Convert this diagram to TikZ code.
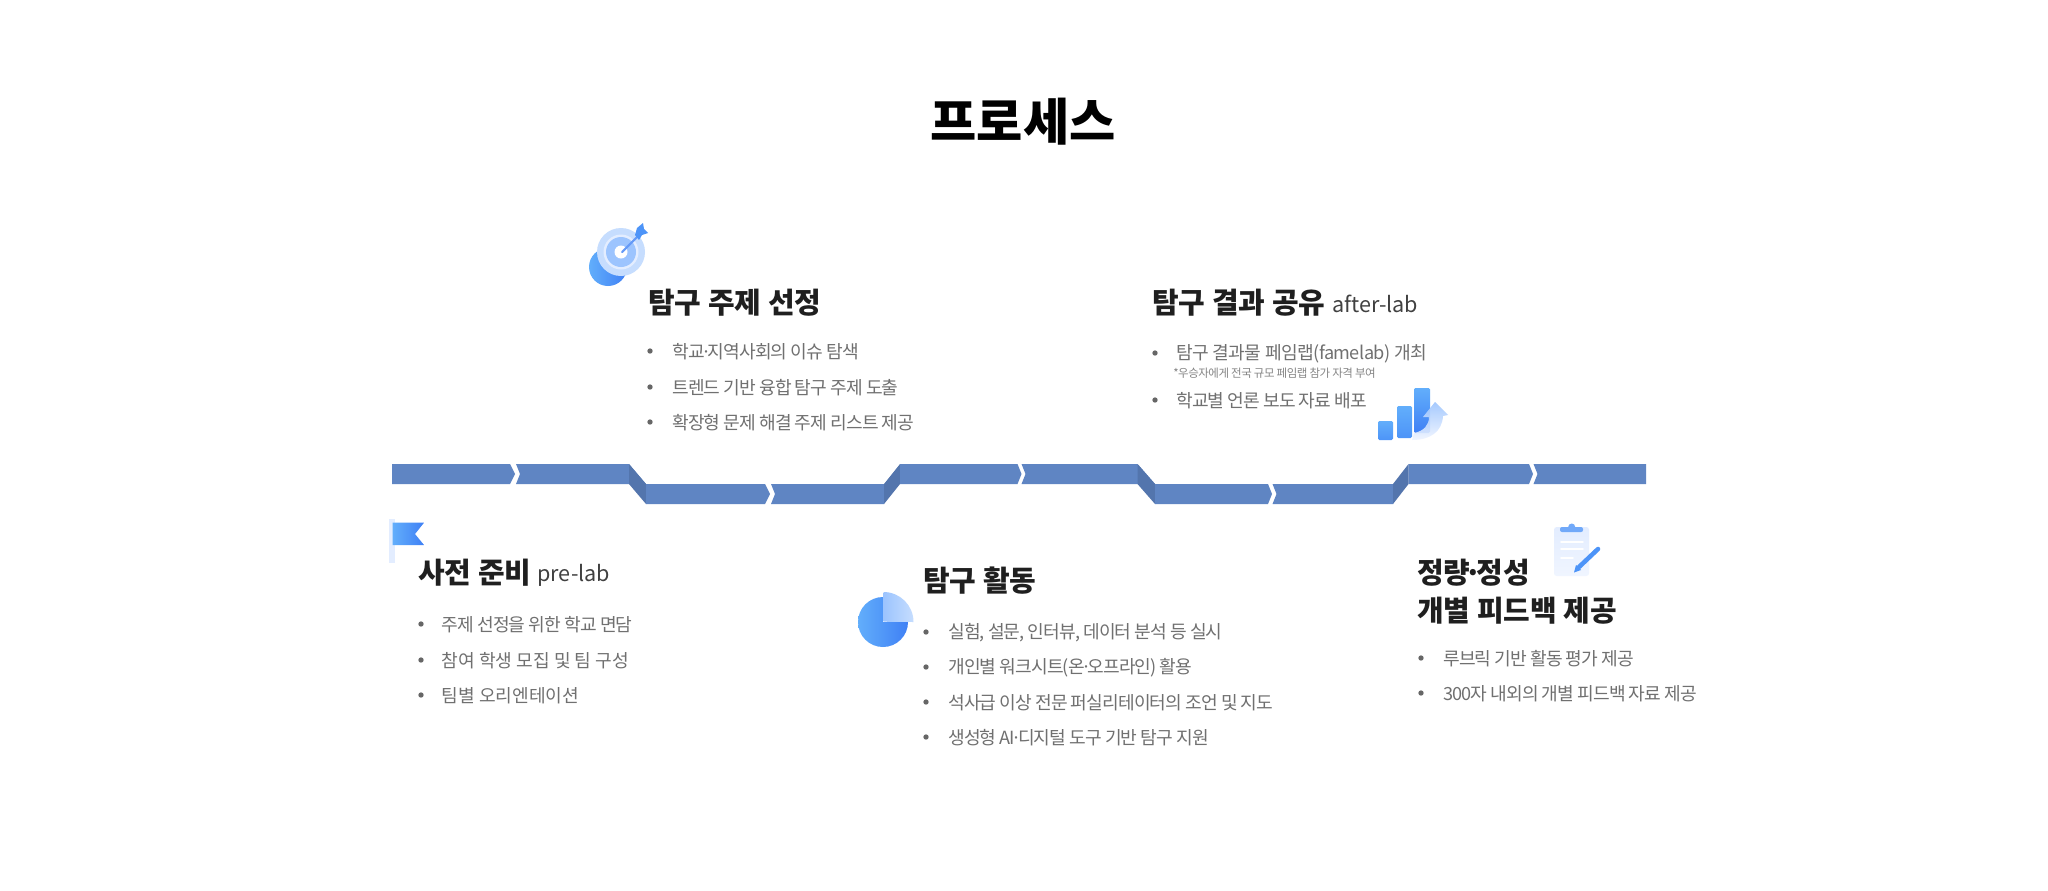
\documentclass[tikz,border=0pt]{standalone}
\usepackage{fontspec}
\setmainfont{Noto Sans CJK KR}
\newfontfamily\tightf[LetterSpace=-5]{Noto Sans CJK KR}
\newfontfamily\midf[LetterSpace=-3]{Noto Sans CJK KR}
\newfontfamily\notef[LetterSpace=-4]{Noto Sans CJK KR}
\usetikzlibrary{calc}
\definecolor{bandc}{HTML}{5F85C3}
\definecolor{bandd}{HTML}{5375AD}
\definecolor{headc}{HTML}{1F1F1F}
\definecolor{bodyc}{HTML}{707070}
\definecolor{dotc}{HTML}{666666}
\definecolor{iconm}{HTML}{4D94F8}
\definecolor{iconl}{HTML}{62AEFB}
\definecolor{icond}{HTML}{3F80F5}
\definecolor{iconp}{HTML}{C6DDFE}
\definecolor{iconq}{HTML}{9CC4FE}
\definecolor{iconb}{HTML}{E3EDFF}
\definecolor{iconc}{HTML}{F0F5FF}
\newcommand{\mdot}{\kern-0.2em·\kern-0.2em}
\tikzset{
  band/.style={fill=bandc},
  slope/.style={fill=bandd},
  titletext/.style={anchor=center,inner sep=0,font=\fontsize{37.7}{38}\selectfont\bfseries,text=black},
  headtext/.style={anchor=west,inner sep=0,font=\fontsize{21.7}{26}\selectfont\bfseries,text=headc},
  subtext/.style={anchor=west,inner sep=0,font=\fontsize{16.2}{19}\selectfont,text=headc!85!white},
  bodytext/.style={anchor=west,inner sep=0,font=\fontsize{13.6}{16}\selectfont\tightf,text=bodyc},
  notetext/.style={anchor=west,inner sep=0,font=\fontsize{8.6}{10}\selectfont\notef,text=bodyc!85!white},
  dotmark/.style={circle,fill=dotc,inner sep=0,minimum size=4pt},
}
\newcommand{\bulitem}[5]{% name, dotx, textx, y, text
  \node[dotmark] (#1d) at (#2,#4) {};
  \node[bodytext] (#1) at (#3,#4+1) {#5};
}
\begin{document}
\begin{tikzpicture}[x=0.75pt,y=-0.75pt]
\useasboundingbox (0,0) rectangle (2048,890);
\fill[white] (0,0) rectangle (2048,890);

\node[titletext] (title) at (1023,122) {프로세스};

% band
\fill[band] (392,464)--(510,464)--(515,474)--(510,484)--(392,484)--cycle;
\fill[band] (516,464)--(629,464)--(646,484)--(629,484)--(516,484)--(520,474)--cycle;
\fill[slope] (629,464)--(646,484)--(646,504)--(629,484)--cycle;
\fill[band] (646,484)--(765,484)--(770,494)--(765,504)--(646,504)--cycle;
\fill[band] (771,484)--(884,484)--(884,504)--(771,504)--(775,494)--cycle;
\fill[slope] (884,484)--(900,464)--(900,484)--(884,504)--cycle;
\fill[band] (900,464)--(1017.5,464)--(1021.5,474)--(1017.5,484)--(900,484)--cycle;
\fill[band] (1021.5,464)--(1137.5,464)--(1155,484)--(1137.5,484)--(1021.5,484)--(1025.5,474)--cycle;
\fill[slope] (1137.5,464)--(1155,484)--(1155,504)--(1137.5,484)--cycle;
\fill[band] (1155,484)--(1268,484)--(1272,494)--(1268,504)--(1155,504)--cycle;
\fill[band] (1272.5,484)--(1393,484)--(1393,504)--(1272.5,504)--(1276.5,494)--cycle;
\fill[slope] (1393,484)--(1408.5,464)--(1408.5,484)--(1393,504)--cycle;
\fill[band] (1408.5,464)--(1529,464)--(1533,474)--(1529,484)--(1408.5,484)--cycle;
\fill[band] (1533.5,464)--(1646,464)--(1646,484)--(1533.5,484)--(1537.5,474)--cycle;

% block: topic selection
\node[headtext] (h2) at (648,303) {탐구 주제 선정};
\bulitem{b21}{650}{672}{351}{학교\mdot 지역사회의 이슈 탐색}
\bulitem{b22}{650}{672}{387}{트렌드 기반 융합 탐구 주제 도출}
\bulitem{b23}{650}{672}{422}{확장형 문제 해결 주제 리스트 제공}

% block: after-lab
\node[headtext] (h4) at (1152,303) {탐구 결과 공유};
\node[subtext] (s4) at (1332,304) {after-lab};
\bulitem{b41}{1155}{1176}{353}{\midf 탐구 결과물 페임랩(famelab) 개최}
\node[notetext] (n41) at (1173,373) {*우승자에게 전국 규모 페임랩 참가 자격 부여};
\bulitem{b42}{1155}{1176}{400}{학교별 언론 보도 자료 배포}

% block: pre-lab
\node[headtext] (h1) at (418,573) {사전 준비};
\node[subtext] (s1) at (537,575) {pre-lab};
\bulitem{b11}{421}{441.5}{624}{주제 선정을 위한 학교 면담}
\bulitem{b12}{421}{441.5}{660}{\rmfamily 참여 학생 모집 및 팀 구성}
\bulitem{b13}{421}{441.5}{695}{\rmfamily 팀별 오리엔테이션}

% block: activity
\node[headtext] (h3) at (923,581) {탐구 활동};
\bulitem{b31}{926}{948}{632}{실험, 설문, 인터뷰, 데이터 분석 등 실시}
\bulitem{b32}{926}{948}{667}{개인별 워크시트(온\mdot 오프라인) 활용}
\bulitem{b33}{926}{948}{702}{석사급 이상 전문 퍼실리테이터의 조언 및 지도}
\bulitem{b34}{926}{948}{737}{생성형 AI\mdot 디지털 도구 기반 탐구 지원}

% block: feedback
\node[headtext] (h5a) at (1417,573) {정량\mdot 정성};
\node[headtext] (h5b) at (1417,611) {개별 피드백 제공};
\bulitem{b51}{1421}{1443}{658}{루브릭 기반 활동 평가 제공}
\bulitem{b52}{1421}{1443}{693}{300자 내외의 개별 피드백 자료 제공}

% icon: target
\shade[left color=iconl,right color=icond] (608,267) circle (19);
\fill[iconp] (621,252) circle (24);
\fill[iconb] (621,252) circle (17.5);
\fill[iconq] (621,252) circle (15);
\fill[white] (621,252) circle (6.5);
\draw[icond!80!white,line width=1.6pt,line cap=round] (622,252)--(640,234);
\fill[iconm] (635,235)--(637,228)--(643,223)--(644,229)--(648,233)--(642,235)--(639,240)--cycle;

% icon: chart
\shade[top color=iconl,bottom color=iconm,rounded corners=1pt] (1378,421) rectangle (1393,440);
\shade[top color=iconl,bottom color=iconm,rounded corners=1pt] (1397,406) rectangle (1412,438);
\shade[top color=iconl,bottom color=icond,rounded corners=1pt] (1414,388) rectangle (1430,433);
\shade[top color=iconq,bottom color=iconc,opacity=.9] (1412,440)
  .. controls (1430,440) and (1442,432) .. (1443,416)
  -- (1448,415) -- (1435,402) -- (1423,417) -- (1429,417)
  .. controls (1429,425) and (1424,431) .. (1414,433) -- cycle;

% icon: flag
\fill[iconb] (389,519) rectangle (395,563);
\shade[left color=iconl,right color=icond] (392.7,522.7)--(424,522.7)--(415,534)--(424,545)--(392.7,545)--cycle;

% icon: pie
\shade[left color=iconl,right color=icond] (883,622)--(883,597) arc (-90:-360:25)--cycle;
\shade[left color=iconq,right color=iconp] (883.5,621.7)--(883.5,592) arc (-90:0:30)--cycle;

% icon: clipboard
\shade[top color=iconb,bottom color=iconc,rounded corners=2pt] (1554,527) rectangle (1589,576);
\fill[iconm!80!white,rounded corners=1.5pt] (1560,527) rectangle (1583,532);
\fill[iconm!80!white] (1571.7,527) circle (3.5);
\foreach \ya/\xb in {542/1583,549/1583,558/1573}{
  \draw[white,line width=1.2pt,line cap=round] (1561,\ya)--(\xb,\ya);
}
\draw[iconm,line width=3.4pt,line cap=round] (1598,549)--(1579,567);
\fill[iconm] (1576,565)--(1581,570)--(1574,572.5)--cycle;
\end{tikzpicture}
\end{document}
